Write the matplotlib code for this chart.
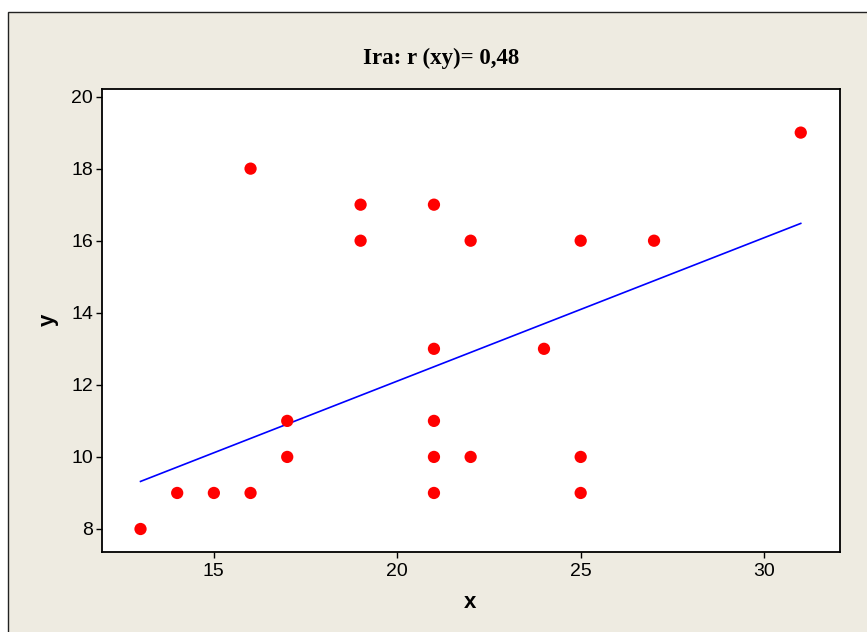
import numpy as np
import matplotlib.pyplot as plt
from matplotlib.patches import Rectangle

# data
x_vals = [13, 14, 15, 16, 16, 17, 17, 19, 19, 21, 21, 21, 21, 21, 22, 22, 24, 25, 25, 25, 27, 31]
y_vals = [8, 9, 9, 18, 9, 11, 10, 17, 16, 17, 13, 11, 10, 9, 16, 10, 13, 16, 10, 9, 16, 19]
fit_x = [13, 31]
fit_y = [9.32, 16.48]
x_ticks = [15, 20, 25, 30]
y_ticks = [8, 10, 12, 14, 16, 18, 20]
title = "Ira: r (xy)= 0,48"

W, H = 867, 632
fig = plt.figure(figsize=(W / 100, H / 100), dpi=100, facecolor="white")

# beige panel with frame (right/bottom edges run off the image)
fig.patches.append(Rectangle((8 / W, 1 - 12 / H), 2, -2, transform=fig.transFigure,
                             facecolor="#eeebe1", edgecolor="#222222", linewidth=1.0,
                             zorder=-1))

ax = fig.add_axes([102 / W, 1 - 551.7 / H, (840 - 102) / W, (551.7 - 89) / H])
ax.set_zorder(2)
ax.set_facecolor("white")

ax.plot(fit_x, fit_y, color="#0000ff", linewidth=1.2, zorder=2)
ax.scatter(x_vals, y_vals, s=78, color="#ff0000", edgecolors="none", zorder=3)

ax.set_xlim(11.95, 32.07)
ax.set_ylim(7.37, 20.21)
ax.set_xticks(x_ticks)
ax.set_yticks(y_ticks)

for side in ["left", "bottom", "right", "top"]:
    ax.spines[side].set_linewidth(1.3)
    ax.spines[side].set_color("black")

ax.tick_params(direction="out", length=4, width=1.0, color="black",
               top=False, right=False)
ax.tick_params(axis="x", pad=4)
ax.tick_params(axis="y", pad=2.5)
for lbl in ax.get_xticklabels() + ax.get_yticklabels():
    lbl.set_fontfamily("Liberation Sans")
    lbl.set_fontsize(14)

fig.text(470 / W, 1 - 603 / H, "x", ha="center", va="center",
         fontsize=16, fontweight="bold", family="Liberation Sans")
fig.text(48 / W, 1 - 320 / H, "y", ha="center", va="center", rotation=90,
         fontsize=16, fontweight="bold", family="Liberation Sans")
fig.text(441.5 / W, 1 - 58 / H, title, ha="center", va="center",
         fontsize=16.5, fontweight="bold", family="Liberation Serif")

fig.savefig("out.png", dpi=100, facecolor=fig.get_facecolor())
